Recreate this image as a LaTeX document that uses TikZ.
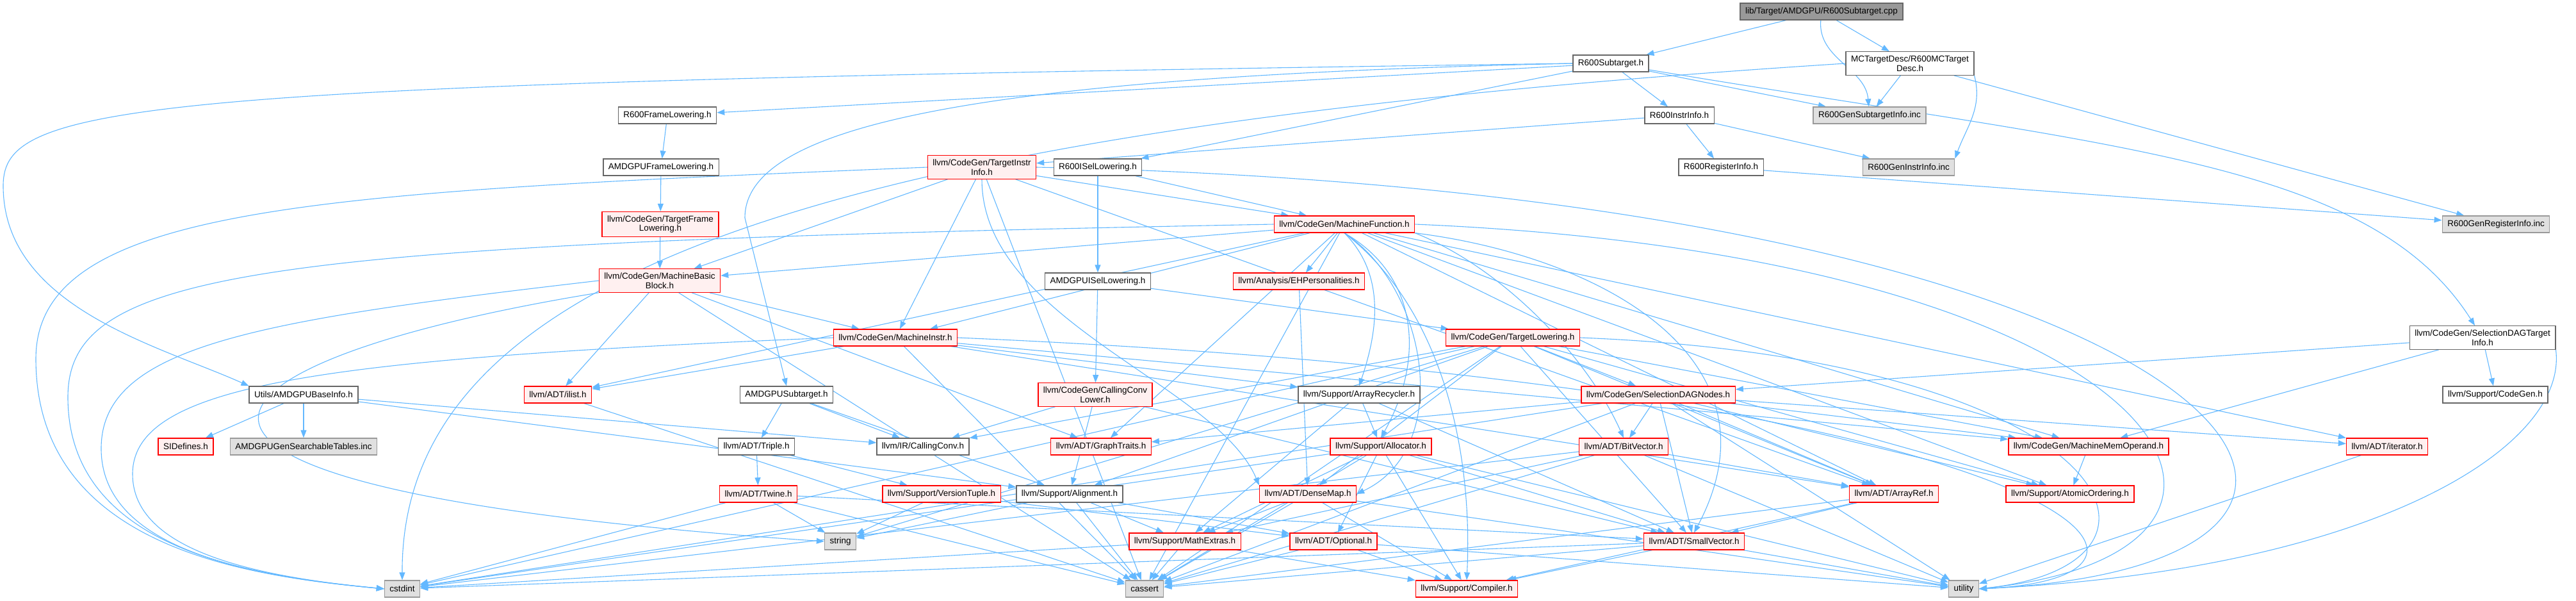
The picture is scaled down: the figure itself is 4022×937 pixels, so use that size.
\documentclass[tikz,border=0pt]{standalone}
\usepackage{fontspec}
\setmainfont{Liberation Sans}
\usetikzlibrary{arrows.meta,positioning,backgrounds}
\definecolor{depEdge}{HTML}{63B8FF}
\definecolor{depRed}{HTML}{FF0000}
\definecolor{depPink}{HTML}{FFF0F0}
\definecolor{depGray}{HTML}{E0E0E0}
\definecolor{depGrayLine}{HTML}{999999}
\definecolor{depDark}{HTML}{666666}

\tikzset{
  hdr/.style={draw=depDark, fill=white, line width=1.3pt, rectangle,
    inner xsep=8pt, inner ysep=6pt, minimum height=26pt, align=center,
    font=\fontsize{13.5}{14.5}\selectfont},
  trunc/.style={hdr, draw=depRed, fill=depPink},
  sys/.style={hdr, draw=depGrayLine, fill=depGray},
  root/.style={hdr, fill=depGrayLine},
  dep/.style={draw=depEdge, line width=1.1pt, -{Triangle[length=12pt,width=9pt]}}
}

\begin{document}
\begin{tikzpicture}[x=1pt, y=-1pt]
  \useasboundingbox (0,0) rectangle (4022,937);
  % Row 0-2: the file itself and the R600 headers
  \node[root] (cpp) at (2844,18) {lib/Target/AMDGPU/R600Subtarget.cpp};
  \node[hdr] (subtarget) at (2515,99) {R600Subtarget.h};
  \node[hdr] (mcdesc) at (2982,99) {MCTargetDesc/R600MCTarget\\Desc.h};
  \node[hdr] (framelow) at (1042,180) {R600FrameLowering.h};
  \node[hdr] (instrinfo) at (2622,180) {R600InstrInfo.h};
  \node[sys] (gensub) at (2919,180) {R600GenSubtargetInfo.inc};
  \node[hdr] (amdframe) at (1032,261) {AMDGPUFrameLowering.h};
  \node[trunc] (tii) at (1533,261) {llvm/CodeGen/TargetInstr\\Info.h};
  \node[hdr] (r600isel) at (1714,261) {R600ISelLowering.h};
  \node[hdr] (reginfo) at (2687,261) {R600RegisterInfo.h};
  \node[sys] (geninstr) at (2980,261) {R600GenInstrInfo.inc};
  % Row 3-5: CodeGen headers
  \node[trunc] (tfl) at (1031,350) {llvm/CodeGen/TargetFrame\\Lowering.h};
  \node[trunc] (mf) at (2099,350) {llvm/CodeGen/MachineFunction.h};
  \node[sys] (genreg) at (3897,350) {R600GenRegisterInfo.inc};
  \node[trunc] (mbb) at (1030,438) {llvm/CodeGen/MachineBasic\\Block.h};
  \node[hdr] (amdisel) at (1714,439) {AMDGPUISelLowering.h};
  \node[trunc] (ehp) at (2028,439) {llvm/Analysis/EHPersonalities.h};
  \node[trunc] (mi) at (1398,527) {llvm/CodeGen/MachineInstr.h};
  \node[trunc] (tl) at (2362,527) {llvm/CodeGen/TargetLowering.h};
  \node[hdr] (sdagti) at (3876,527) {llvm/CodeGen/SelectionDAGTarget\\Info.h};
  % Row 6: 
  \node[hdr] (baseinfo) at (474,616) {Utils/AMDGPUBaseInfo.h};
  \node[trunc] (ilist) at (871,616) {llvm/ADT/ilist.h};
  \node[hdr] (amdsub) at (1228,616) {AMDGPUSubtarget.h};
  \node[trunc] (ccl) at (1710,616) {llvm/CodeGen/CallingConv\\Lower.h};
  \node[hdr] (arecycler) at (2122,616) {llvm/Support/ArrayRecycler.h};
  \node[trunc] (sdnodes) at (2589,616) {llvm/CodeGen/SelectionDAGNodes.h};
  \node[hdr] (cgen) at (3896,616) {llvm/Support/CodeGen.h};
  % Row 7
  \node[trunc] (sidef) at (290,697) {SIDefines.h};
  \node[sys] (gentables) at (474,697) {AMDGPUGenSearchableTables.inc};
  \node[hdr] (triple) at (1181,697) {llvm/ADT/Triple.h};
  \node[hdr] (ccv) at (1441,697) {llvm/IR/CallingConv.h};
  \node[trunc] (gtraits) at (1719,697) {llvm/ADT/GraphTraits.h};
  \node[trunc] (alloc) at (2156,697) {llvm/Support/Allocator.h};
  \node[trunc] (bitvec) at (2535,697) {llvm/ADT/BitVector.h};
  \node[trunc] (mmo) at (3261,697) {llvm/CodeGen/MachineMemOperand.h};
  \node[trunc] (iter) at (3727,697) {llvm/ADT/iterator.h};
  % Row 8
  \node[trunc] (twine) at (1184,771) {llvm/ADT/Twine.h};
  \node[trunc] (vtuple) at (1470,771) {llvm/Support/VersionTuple.h};
  \node[hdr] (align) at (1670,771) {llvm/Support/Alignment.h};
  \node[trunc] (dmap) at (2042,771) {llvm/ADT/DenseMap.h};
  \node[trunc] (aref) at (2957,771) {llvm/ADT/ArrayRef.h};
  \node[trunc] (atomic) at (3232,771) {llvm/Support/AtomicOrdering.h};
  % Row 9-10: leaves
  \node[sys] (str) at (1312,845) {string};
  \node[trunc] (mathx) at (1850,845) {llvm/Support/MathExtras.h};
  \node[trunc] (optional) at (2082,845) {llvm/ADT/Optional.h};
  \node[trunc] (svec) at (2645,845) {llvm/ADT/SmallVector.h};
  \node[sys] (cstdint) at (628,919) {cstdint};
  \node[sys] (cassert) at (1787,919) {cassert};
  \node[trunc] (compiler) at (2290,919) {llvm/Support/Compiler.h};
  \node[sys] (utility) at (3066,919) {utility};

  \begin{scope}[on background layer]
    % from the source file and R600 target headers
    \draw[dep] (cpp) -- (subtarget);
    \draw[dep] (cpp) to[out=-95,in=95] (gensub);
    \draw[dep] (cpp) -- (mcdesc);
    \draw[dep] (mcdesc) -- (gensub);
    \draw[dep] (mcdesc.south east) to[out=-75,in=70] (geninstr.north east);
    \draw[dep] (mcdesc) -- (genreg);
    \draw[dep] (mcdesc.west) .. controls (1300,200) and (626,420) .. (cstdint.north);
    \draw[dep] (subtarget) -- (framelow);
    \draw[dep] (subtarget) -- (r600isel);
    \draw[dep] (subtarget) -- (instrinfo);
    \draw[dep] (subtarget) -- (gensub);
    \draw[dep] (subtarget) .. controls (3300,230) and (3700,250) .. (sdagti);
    \draw[dep] (subtarget.west) .. controls (200,130) and (5,160) .. (5,290) .. controls (5,480) and (250,540) .. (baseinfo.north west);
    \draw[dep] (subtarget.west) .. controls (1500,120) and (1163,200) .. (1163,340) -- (amdsub.north);
    \draw[dep] (instrinfo) -- (tii);
    \draw[dep] (instrinfo) -- (reginfo);
    \draw[dep] (instrinfo) -- (geninstr);
    \draw[dep] (reginfo) -- (genreg);
    \draw[dep] (framelow) -- (amdframe);
    \draw[dep] (amdframe) -- (tfl);
    \draw[dep] (tfl) -- (mbb);
    \draw[dep] (r600isel) -- (amdisel);
    \draw[dep] (r600isel) -- (mf);
    \draw[dep] (amdisel) -- (ccl);
    \draw[dep] (amdisel) -- (tl);
    % TargetInstrInfo.h
    \draw[dep] (tii) -- (mbb);
    \draw[dep] (tii) -- (mf);
    \draw[dep] (tii) -- (mi);
    \draw[dep] (tii.south) .. controls (1533,500) and (1900,600) .. (dmap.north west);
    \draw[dep] (tii) -- (aref);
    \draw[dep] (tii) -- (cassert);
    \draw[dep] (tii.west) .. controls (500,300) and (56,320) .. (56,560) .. controls (56,860) and (400,900) .. (cstdint.west);
    \draw[dep] (tii.east) .. controls (3500,300) and (3900,880) .. (utility.east);
    % MachineFunction.h
    \draw[dep] (mf) -- (mbb);
    \draw[dep] (mf) -- (mi);
    \draw[dep] (mf) -- (ehp);
    \draw[dep] (mf.south) .. controls (2165,430) and (2150,520) .. (arecycler.north);
    \draw[dep] (mf.south) .. controls (2215,430) and (2225,560) .. (alloc.north);
    \draw[dep] (mf) -- (ilist);
    \draw[dep] (mf.south east) .. controls (2350,420) and (2480,560) .. (bitvec.north);
    \draw[dep] (mf.south) .. controls (2230,450) and (2270,700) .. (dmap.east);
    \draw[dep] (mf) -- (gtraits);
    \draw[dep] (mf) -- (aref);
    \draw[dep] (mf.south east) .. controls (2500,400) and (2790,560) .. (svec.north);
    \draw[dep] (mf) -- (mmo);
    \draw[dep] (mf) -- (iter);
    \draw[dep] (mf) -- (atomic);
    \draw[dep] (mf) -- (cassert);
    \draw[dep] (mf.south) .. controls (2250,480) and (2300,700) .. (compiler.north);
    \draw[dep] (mf.west) .. controls (400,380) and (106,420) .. (106,620) .. controls (106,860) and (400,900) .. (cstdint.west);
    \draw[dep] (mf.east) .. controls (3400,400) and (3650,860) .. (utility.east);
    % MachineBasicBlock.h
    \draw[dep] (mbb) -- (mi);
    \draw[dep] (mbb) -- (ilist);
    \draw[dep] (mbb) -- (gtraits);
    \draw[dep] (mbb) -- (cassert);
    \draw[dep] (mbb.south west) .. controls (300,560) and (40,760) .. (str.west);
    \draw[dep] (mbb.west) .. controls (400,500) and (158,540) .. (158,700) .. controls (158,860) and (400,900) .. (cstdint.west);
    % MachineInstr.h
    \draw[dep] (mi) -- (ilist);
    \draw[dep] (mi) -- (mmo);
    \draw[dep] (mi) -- (arecycler);
    \draw[dep] (mi) -- (aref);
    \draw[dep] (mi) -- (cassert);
    \draw[dep] (mi.west) .. controls (500,560) and (207,600) .. (207,740) .. controls (207,860) and (400,900) .. (cstdint.west);
    \draw[dep] (mi.east) .. controls (3200,600) and (3500,900) .. (utility.east);
    \draw[dep] (ehp) -- (dmap);
    % TargetLowering.h
    \draw[dep] (tl) -- (sdnodes);
    \draw[dep] (tl) -- (ccv);
    \draw[dep] (tl) -- (align);
    \draw[dep] (tl) -- (aref);
    \draw[dep] (tl) -- (dmap);
    \draw[dep] (tl) -- (svec);
    \draw[dep] (tl) -- (mmo);
    \draw[dep] (tl) -- (atomic);
    \draw[dep] (tl) -- (cassert);
    \draw[dep] (tl) -- (str);
    \draw[dep] (tl) -- (cstdint);
    \draw[dep] (tl.east) .. controls (3300,560) and (3450,880) .. (utility.east);
    % SelectionDAGTargetInfo.h and SelectionDAGNodes.h
    \draw[dep] (sdagti) -- (sdnodes);
    \draw[dep] (sdagti) -- (cgen);
    \draw[dep] (sdagti) -- (mmo);
    \draw[dep] (sdagti.south east) .. controls (4010,700) and (3700,890) .. (utility.east);
    \draw[dep] (sdnodes) -- (gtraits);
    \draw[dep] (sdnodes) -- (bitvec);
    \draw[dep] (sdnodes) -- (aref);
    \draw[dep] (sdnodes) -- (svec);
    \draw[dep] (sdnodes) -- (iter);
    \draw[dep] (sdnodes) -- (mmo);
    \draw[dep] (sdnodes) -- (atomic);
    \draw[dep] (sdnodes) -- (cassert);
    \draw[dep] (sdnodes) -- (cstdint);
    \draw[dep] (sdnodes) -- (utility);
    % AMDGPU side headers
    \draw[dep] (ccl) -- (ccv);
    \draw[dep] (ccl) -- (align);
    \draw[dep] (ccl) -- (svec);
    \draw[dep] (amdsub) -- (triple);
    \draw[dep] (amdsub) -- (ccv);
    \draw[dep] (amdsub) -- (align);
    \draw[dep] (baseinfo) -- (sidef);
    \draw[dep] (baseinfo) -- (gentables);
    \draw[dep] (baseinfo) -- (ccv);
    \draw[dep] (baseinfo) -- (align);
    \draw[dep] (ilist) -- (cassert);
    % ADT / Support
    \draw[dep] (triple) -- (twine);
    \draw[dep] (triple) -- (vtuple);
    \draw[dep] (twine) -- (str);
    \draw[dep] (twine) -- (cassert);
    \draw[dep] (twine) -- (cstdint);
    \draw[dep] (twine) -- (svec);
    \draw[dep] (vtuple) -- (str);
    \draw[dep] (vtuple) -- (optional);
    \draw[dep] (align) -- (str);
    \draw[dep] (align) -- (mathx);
    \draw[dep] (align) -- (cassert);
    \draw[dep] (align) -- (optional);
    \draw[dep] (dmap) -- (mathx);
    \draw[dep] (dmap) -- (compiler);
    \draw[dep] (dmap) -- (cassert);
    \draw[dep] (dmap) -- (utility);
    \draw[dep] (mathx) -- (cassert);
    \draw[dep] (mathx) -- (compiler);
    \draw[dep] (mathx) -- (cstdint);
    \draw[dep] (optional) -- (compiler);
    \draw[dep] (optional) -- (utility);
    \draw[dep] (optional) -- (cassert);
    \draw[dep] (alloc) -- (optional);
    \draw[dep] (alloc) -- (compiler);
    \draw[dep] (alloc) -- (svec);
    \draw[dep] (alloc) -- (mathx);
    \draw[dep] (alloc) -- (cassert);
    \draw[dep] (alloc) -- (cstdint);
    \draw[dep] (alloc) -- (utility);
    \draw[dep] (bitvec) -- (aref);
    \draw[dep] (bitvec) -- (mathx);
    \draw[dep] (bitvec) -- (cassert);
    \draw[dep] (bitvec) -- (cstdint);
    \draw[dep] (bitvec) -- (utility);
    \draw[dep] (aref) -- (svec);
    \draw[dep] (aref) -- (compiler);
    \draw[dep] (aref) -- (cassert);
    \draw[dep] (svec) -- (compiler);
    \draw[dep] (svec) -- (cassert);
    \draw[dep] (svec) -- (cstdint);
    \draw[dep] (svec) -- (utility);
    \draw[dep] (iter) -- (utility);
    \draw[dep] (mmo) -- (atomic);
    \draw[dep] (arecycler) -- (alloc);
    \draw[dep] (arecycler) -- (svec);
    \draw[dep] (arecycler) -- (mathx);
  \end{scope}
\end{tikzpicture}
\end{document}
